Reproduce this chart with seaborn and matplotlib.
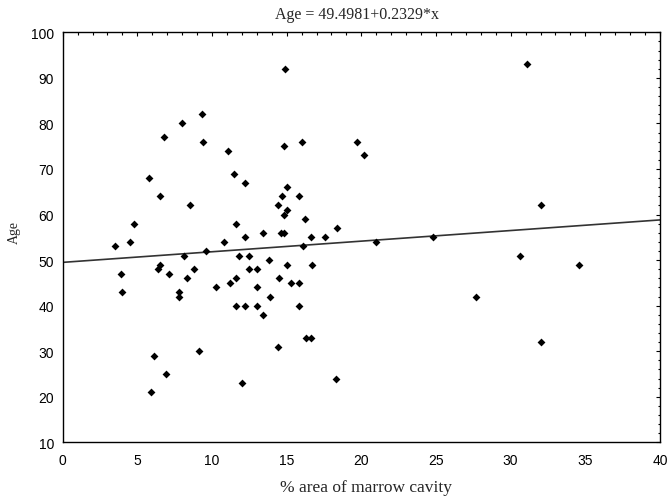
import matplotlib
matplotlib.use("Agg")
import matplotlib.pyplot as plt
import seaborn as sns
import numpy as np
import pandas as pd
from matplotlib.ticker import MultipleLocator

# % area of marrow cavity
area = [9.3, 8.0, 6.8, 9.4, 5.8, 6.5, 8.5, 4.8, 4.5, 3.5, 8.1, 9.6, 6.5, 6.4, 3.9,
        7.1, 8.8, 8.3, 4.0, 7.8, 7.8, 6.1, 9.1, 6.9, 5.9,
        14.9, 16.0, 14.8, 11.1, 11.5, 12.2, 15.0, 14.7, 15.8, 14.4, 15.0, 14.8, 16.2,
        11.6, 13.4, 14.6, 14.8, 18.4, 12.2, 16.6, 17.6, 10.8, 16.1, 11.8, 12.5, 13.8,
        15.0, 16.7, 12.5, 13.0, 11.6, 11.2, 14.5, 15.3, 15.8, 10.3, 13.0, 13.9, 11.6,
        12.2, 13.0, 15.8, 13.4, 16.3, 16.6, 14.4, 12.0, 18.3,
        31.1, 19.7, 20.2, 32.0, 21.0, 24.8, 30.6, 34.6, 27.7, 32.0]
# Age
age = [82, 80, 77, 76, 68, 64, 62, 58, 54, 53, 51, 52, 49, 48, 47,
       47, 48, 46, 43, 43, 42, 29, 30, 25, 21,
       92, 76, 75, 74, 69, 67, 66, 64, 64, 62, 61, 60, 59,
       58, 56, 56, 56, 57, 55, 55, 55, 54, 53, 51, 51, 50,
       49, 49, 48, 48, 46, 45, 46, 45, 45, 44, 44, 42, 40,
       40, 40, 40, 38, 33, 33, 31, 23, 24,
       93, 76, 73, 62, 54, 55, 51, 49, 42, 32]

intercept = 49.4981
slope = 0.2329
fit_x = [0, 40]

x_ticks = [0, 5, 10, 15, 20, 25, 30, 35, 40]
y_ticks = [10, 20, 30, 40, 50, 60, 70, 80, 90, 100]

sns.set_style("white")
plt.rcParams['font.family'] = ['Liberation Sans', 'DejaVu Sans']

fig = plt.figure(figsize=(6.69, 5.02), dpi=100)
ax = fig.add_axes([0.0937, 0.1169, 0.8928, 0.8168])

df = pd.DataFrame({"area": area, "age": age})
sns.scatterplot(data=df, x="area", y="age", marker="D", color="black", s=16,
                linewidth=0, ax=ax, zorder=3)

fit = pd.DataFrame({"x": fit_x, "y": [intercept + slope * v for v in fit_x]})
sns.lineplot(data=fit, x="x", y="y", color="#333333", linewidth=1.2, ax=ax, zorder=2)

ax.set_xlim(0, 40)
ax.set_ylim(10, 100)
ax.set_xticks(x_ticks)
ax.set_yticks(y_ticks)
ax.xaxis.set_minor_locator(MultipleLocator(1))
ax.yaxis.set_minor_locator(MultipleLocator(2))
ax.tick_params(which="both", direction="in", top=True, right=True, colors="black",
               labelsize=10)
ax.tick_params(which="major", length=3, width=0.8)
ax.tick_params(which="minor", length=1.8, width=0.8)
ax.tick_params(axis="x", which="major", pad=8)
ax.tick_params(axis="y", which="major", pad=6.3)
for sp in ax.spines.values():
    sp.set_color("black")
    sp.set_linewidth(1.0)
    sp.set_visible(True)

serif = ['Liberation Serif', 'DejaVu Serif']
ax.set_xlabel("% area of marrow cavity", family=serif, fontsize=12.5)
ax.xaxis.set_label_coords(0.5075, -0.09)
ax.set_ylabel("Age", family=serif, fontsize=10)
ax.yaxis.set_label_coords(-0.07, 0.513)
ax.set_title("Age = 49.4981+0.2329*x", family=serif, fontsize=11.5, pad=10, x=0.492)

fig.savefig("out.png", dpi=100)
